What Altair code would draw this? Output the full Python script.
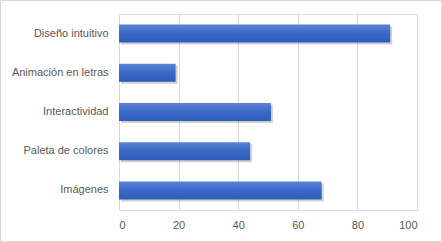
import altair as alt
import pandas as pd

categories = ["Diseño intuitivo", "Animación en letras", "Interactividad", "Paleta de colores", "Imágenes"]
values = [91, 19, 51, 44, 68]
x_ticks = [0, 20, 40, 60, 80, 100]

df = pd.DataFrame({"categoria": categories, "valor": values})

FONT = "Liberation Sans"

x_enc = alt.X("valor:Q", scale=alt.Scale(domain=[0, 100], nice=False),
              axis=alt.Axis(values=x_ticks, title=None, domain=False, ticks=False,
                            labelPadding=9, gridColor="#d9d9d9", labelColor="#595959",
                            labelFont=FONT, labelFontSize=11))
y_enc = alt.Y("categoria:N", sort=categories,
              scale=alt.Scale(paddingInner=0.54, paddingOuter=0.27),
              axis=alt.Axis(title=None, domain=False, ticks=False, labelPadding=11,
                            labelColor="#595959", labelFont=FONT, labelFontSize=11))

shadow = alt.Chart(df).mark_bar(color="#000000", opacity=0.18, xOffset=2, yOffset=2,
                                cornerRadius=0).encode(x=x_enc, y=y_enc)

grad = alt.Gradient(gradient="linear", x1=0, y1=0, x2=0, y2=1,
                    stops=[alt.GradientStop(color="#5a83d6", offset=0),
                           alt.GradientStop(color="#3a68c6", offset=0.5),
                           alt.GradientStop(color="#2d5cbd", offset=1)])
bars = alt.Chart(df).mark_bar(color=grad).encode(x=x_enc, y=y_enc)

border = alt.Chart(df).mark_rect(fillOpacity=0, stroke="#d9d9d9", strokeWidth=1).encode(
    x=alt.value(-118.5), x2=alt.value(322.5), y=alt.value(-13.5), y2=alt.value(227.5))

chart = alt.layer(shadow, bars, border).properties(
    width=298, height=196,
    autosize=alt.AutoSizeParams(type="none"),
    padding={"left": 119, "top": 14, "right": 25, "bottom": 32},
).configure_view(stroke=None).configure(background="white")

chart.save("out.html", embed_options={"renderer": "svg", "actions": False})
